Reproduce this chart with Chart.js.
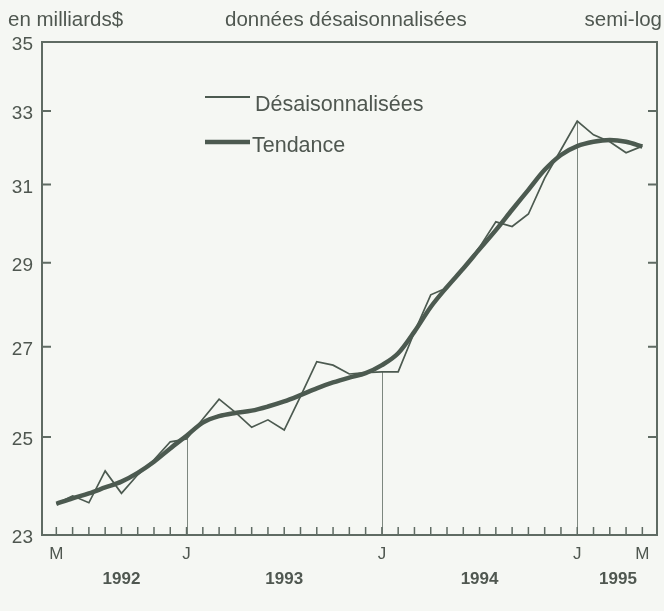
<!DOCTYPE html>
<html>
<head>
<meta charset="utf-8">
<title>Données désaisonnalisées - semi-log</title>
<script src="https://cdn.jsdelivr.net/npm/chart.js@4.4.0/dist/chart.umd.min.js"></script>
<style>
  html, body { margin: 0; padding: 0; background: #f5f7f3; }
  .wrap { width: 664px; height: 611px; position: relative; }
</style>
</head>
<body>
<div class="wrap"><canvas id="myChart" width="664" height="611"></canvas></div>
<script>
  // mai 1992 .. mai 1995, one point per month
  const startYear = 1992;
  const startMonth = 4; // 0 = janvier, so 4 = mai
  const raw = [
    23.62, 23.78, 23.64, 24.29, 23.83, 24.21, 24.52, 24.90,
    24.96, 25.39, 25.82, 25.53, 25.21, 25.37, 25.15, 25.88,
    26.66, 26.58, 26.38, 26.41, 26.43, 26.43, 27.34, 28.22,
    28.39, 28.87, 29.39, 30.03, 29.91, 30.23, 31.17, 31.93,
    32.72, 32.34, 32.15, 31.85, 32.03
  ];
  const trend = [
    23.62, 23.73, 23.83, 23.95, 24.07, 24.25, 24.48, 24.76,
    25.03, 25.31, 25.45, 25.52, 25.57, 25.66, 25.77, 25.91,
    26.06, 26.19, 26.30, 26.40, 26.58, 26.85, 27.35, 27.93,
    28.41, 28.86, 29.34, 29.82, 30.34, 30.86, 31.39, 31.79,
    32.03, 32.15, 32.20, 32.15, 32.02
  ];
  const yTicks = [23, 25, 27, 29, 31, 33, 35];
  const monthLetters = ['J', 'F', 'M', 'A', 'M', 'J', 'J', 'A', 'S', 'O', 'N', 'D'];
  const seriesNames = ['Désaisonnalisées', 'Tendance'];
  const headerTexts = ['en milliards$', 'données désaisonnalisées', 'semi-log'];

  const lineColor = '#4c5a50';
  const axisColor = '#5f6b63';
  const textColor = '#4f5750';
  const fontFamily = '"Liberation Sans", Arial, Helvetica, sans-serif';

  // helpers built from the arrays above
  const monthOf = (i) => (startMonth + i) % 12;
  const yearOf = (i) => startYear + Math.floor((startMonth + i) / 12);
  const lastIdx = raw.length - 1;
  // labelled ticks: first month, every janvier, last month
  const labelIdx = raw.map((v, i) => i).filter(i => i === 0 || i === lastIdx || monthOf(i) === 0);
  const janIdx = labelIdx.filter(i => monthOf(i) === 0);
  // year labels centred on the months of each year
  const years = [];
  raw.forEach((v, i) => {
    const y = yearOf(i);
    let g = years.find(o => o.year === y);
    if (!g) { g = { year: y, from: i, to: i }; years.push(g); }
    g.to = i;
  });
  const yearCenters = years.map(g => (g.from + g.to + 1) / 2);

  const toPts = (arr) => arr.map((v, i) => ({ x: i, y: v }));

  const framePlugin = {
    id: 'frame',
    beforeDatasetsDraw(chart) {
      const { ctx, chartArea: a, scales } = chart;
      const xs = scales.x, ys = scales.y;
      ctx.save();
      // thin vertical lines on each janvier, up to the series
      ctx.strokeStyle = '#7d877f';
      ctx.lineWidth = 1;
      janIdx.forEach(i => {
        const px = Math.round(xs.getPixelForValue(i)) + 0.5;
        ctx.beginPath();
        ctx.moveTo(px, a.bottom);
        ctx.lineTo(px, ys.getPixelForValue(raw[i]));
        ctx.stroke();
      });
      // inside tick marks, one per month
      ctx.strokeStyle = axisColor;
      ctx.lineWidth = 1.5;
      raw.forEach((v, i) => {
        const px = xs.getPixelForValue(i);
        ctx.beginPath();
        ctx.moveTo(px, a.bottom);
        ctx.lineTo(px, a.bottom - 8);
        ctx.stroke();
      });
      // inside ticks on both vertical sides
      ctx.lineWidth = 2;
      yTicks.slice(1, -1).forEach(t => {
        const py = ys.getPixelForValue(t);
        ctx.beginPath();
        ctx.moveTo(a.left, py);
        ctx.lineTo(a.left + 9, py);
        ctx.moveTo(a.right, py);
        ctx.lineTo(a.right - 9, py);
        ctx.stroke();
      });
      ctx.restore();
    },
    afterDatasetsDraw(chart) {
      const { ctx, chartArea: a } = chart;
      ctx.save();
      ctx.strokeStyle = axisColor;
      ctx.lineWidth = 2;
      ctx.strokeRect(a.left, a.top, a.right - a.left, a.bottom - a.top);

      // legend inside the plot
      ctx.strokeStyle = lineColor;
      ctx.lineCap = 'butt';
      ctx.lineWidth = 1.8;
      ctx.beginPath();
      ctx.moveTo(a.left + 163, 97);
      ctx.lineTo(a.left + 208, 97);
      ctx.stroke();
      ctx.lineWidth = 4.5;
      ctx.beginPath();
      ctx.moveTo(a.left + 163, 142);
      ctx.lineTo(a.left + 208, 142);
      ctx.stroke();
      ctx.fillStyle = textColor;
      ctx.font = '21.5px ' + fontFamily;
      ctx.textBaseline = 'alphabetic';
      ctx.textAlign = 'left';
      ctx.fillText(seriesNames[0], a.left + 213, 111);
      ctx.fillText(seriesNames[1], a.left + 210, 152);

      // header line
      ctx.font = '20.5px ' + fontFamily;
      ctx.fillText(headerTexts[0], 8, 26);
      ctx.fillText(headerTexts[1], 225, 26);
      ctx.textAlign = 'right';
      ctx.fillText(headerTexts[2], 662, 26);
      ctx.restore();
    }
  };

  const config = {
    type: 'line',
    data: {
      datasets: [
        {
          label: seriesNames[0],
          data: toPts(raw),
          borderColor: lineColor,
          borderWidth: 1.7,
          pointRadius: 0,
          tension: 0,
          fill: false
        },
        {
          label: seriesNames[1],
          data: toPts(trend),
          borderColor: lineColor,
          borderWidth: 4.5,
          pointRadius: 0,
          tension: 0.4,
          cubicInterpolationMode: 'monotone',
          fill: false
        }
      ]
    },
    options: {
      responsive: false,
      animation: false,
      layout: { padding: { top: 42, right: 7, bottom: 10, left: 0 } },
      plugins: {
        legend: { display: false },
        title: { display: false },
        tooltip: { enabled: false }
      },
      scales: {
        x: {
          type: 'linear',
          position: 'bottom',
          min: -0.88,
          max: lastIdx + 0.9,
          grid: { display: false, drawTicks: false },
          border: { display: false },
          afterBuildTicks: (axis) => { axis.ticks = labelIdx.map(v => ({ value: v })); },
          afterFit: (axis) => { axis.height = 28; },
          ticks: {
            autoSkip: false,
            maxRotation: 0,
            padding: 9,
            color: textColor,
            font: { family: fontFamily, size: 17 },
            callback: (v) => monthLetters[monthOf(v)]
          }
        },
        x2: {
          type: 'linear',
          position: 'bottom',
          min: -0.88,
          max: lastIdx + 0.9,
          grid: { display: false, drawTicks: false },
          border: { display: false },
          afterBuildTicks: (axis) => { axis.ticks = yearCenters.map(v => ({ value: v })); },
          afterFit: (axis) => { axis.height = 38; },
          ticks: {
            autoSkip: false,
            maxRotation: 0,
            padding: 6,
            color: textColor,
            font: { family: fontFamily, size: 17, weight: 'bold' },
            callback: (v, idx) => String(years[idx].year)
          }
        },
        y: {
          type: 'logarithmic',
          min: yTicks[0],
          max: yTicks[yTicks.length - 1],
          grid: { display: false, drawTicks: false },
          border: { display: false },
          afterBuildTicks: (axis) => { axis.ticks = yTicks.map(v => ({ value: v })); },
          afterFit: (axis) => { axis.width = 42; },
          ticks: {
            padding: 9,
            labelOffset: 3,
            color: textColor,
            font: { family: fontFamily, size: 19 },
            callback: (v) => String(v)
          }
        }
      }
    },
    plugins: [framePlugin]
  };

  const ctx = document.getElementById('myChart');
  const myChart = new Chart(ctx, config);
</script>
</body>
</html>
